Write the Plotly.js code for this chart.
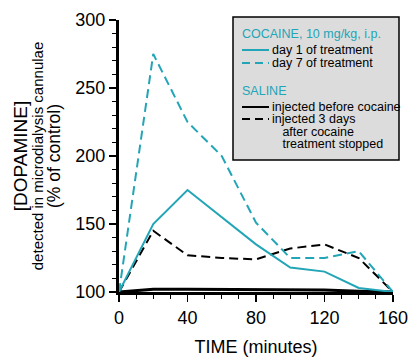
<!DOCTYPE html>
<html>
<head>
<meta charset="utf-8">
<script src="https://cdn.plot.ly/plotly-3.0.1.min.js"></script>
<style>
html,body{margin:0;padding:0;background:#fff;}
#chart{width:418px;height:363px;}
</style>
</head>
<body>
<div id="chart"></div>
<script>
var time = [0, 20, 40, 60, 80, 100, 120, 140, 160];
var cocaineDay1 = [100, 150, 175, 155, 135, 118, 115, 103, 100];
var cocaineDay7 = [100, 275, 225, 200, 151, 125, 125, 130, 100];
var salineBefore = [100, 102, 102, 102, 102, 102, 101.5, 100.5, 100];
var salineAfter = [100, 145, 127, 125, 124, 132, 135, 125, 100];

var cyan = '#22a5b6';
var font = 'Liberation Sans, Arial, Helvetica, sans-serif';

var traces = [
  {x: time, y: salineBefore, mode: 'lines', line: {color: '#000', width: 3}},
  {x: time, y: salineAfter, mode: 'lines', line: {color: '#000', width: 2, dash: '9px,5px'}},
  {x: time, y: cocaineDay7, mode: 'lines', line: {color: cyan, width: 2, dash: '9px,5px'}},
  {x: time, y: cocaineDay1, mode: 'lines', line: {color: cyan, width: 2}}
];

function sz(t, s) { return '<span style="font-size:' + s + 'px">' + t + '</span>'; }
function ann(x, y, text, color, base) {
  return {xref: 'paper', yref: 'paper', x: x, y: y, text: text, showarrow: false, align: 'left',
    xanchor: 'left', yanchor: 'middle', borderpad: 0, font: {family: font, size: base || 12.5, color: color || '#000'}};
}
// paper coords: plot area x 119..393 (274px), y 20..292 (272px)
function px(x) { return (x - 119) / 274; }
function py(y) { return (292 - y) / 272; }
var ind = '&nbsp;&nbsp;&nbsp;';

var layout = {
  width: 418, height: 363,
  margin: {l: 119, r: 25, t: 20, b: 71},
  paper_bgcolor: '#fff', plot_bgcolor: '#fff',
  showlegend: false,
  font: {family: font, color: '#000'},
  xaxis: {
    range: [0, 160], tickvals: [0, 40, 80, 120, 160], ticks: 'outside', ticklen: 7, tickwidth: 1.5,
    tickcolor: '#000', showgrid: false, zeroline: false, showline: true, linewidth: 3, linecolor: '#000',
    tickfont: {family: font, size: 18, color: '#000'},
    minor: {dtick: 10, ticks: 'outside', ticklen: 4, tickwidth: 1, tickcolor: '#000', showgrid: false},
    title: {text: 'TIME (minutes)', font: {family: font, size: 18, color: '#000'}, standoff: 14}
  },
  yaxis: {
    range: [100, 300], tickvals: [100, 150, 200, 250, 300], ticks: 'outside', ticklen: 7, tickwidth: 1.5,
    tickcolor: '#000', showgrid: false, zeroline: false, showline: true, linewidth: 3, linecolor: '#000',
    tickfont: {family: font, size: 18, color: '#000'},
    minor: {dtick: 10, ticks: 'outside', ticklen: 4, tickwidth: 1, tickcolor: '#000', showgrid: false},
    title: {
      text: sz('[DOPAMINE]', 19) + '<br>' + sz('detected in microdialysis cannulae', 15) + '<br>' + sz('(% of control)', 17.5),
      font: {family: font, size: 13, color: '#000'}, standoff: 12
    }
  },
  shapes: [
    {type: 'rect', xref: 'paper', yref: 'paper', x0: px(233), x1: px(399), y0: py(160), y1: py(17),
      fillcolor: '#dcdcdc', line: {color: '#000', width: 1.5}, layer: 'above'},
    {type: 'line', xref: 'paper', yref: 'paper', x0: px(242), x1: px(269), y0: py(50), y1: py(50),
      line: {color: cyan, width: 2}, layer: 'above'},
    {type: 'line', xref: 'paper', yref: 'paper', x0: px(242), x1: px(269), y0: py(63), y1: py(63),
      line: {color: cyan, width: 2, dash: '8px,5px'}, layer: 'above'},
    {type: 'line', xref: 'paper', yref: 'paper', x0: px(242), x1: px(269), y0: py(107), y1: py(107),
      line: {color: '#000', width: 2}, layer: 'above'},
    {type: 'line', xref: 'paper', yref: 'paper', x0: px(242), x1: px(269), y0: py(119), y1: py(119),
      line: {color: '#000', width: 2, dash: '8px,5px'}, layer: 'above'}
  ],
  annotations: [
    ann(px(241), py(34), 'COCAINE, 10 mg/kg, i.p.', cyan),
    ann(px(271), py(56.5), sz('day 1 of treatment', 12.5) + '<br>' + sz('day 7 of treatment', 12.5), '#000', 10),
    ann(px(241), py(91), 'SALINE', cyan),
    ann(px(271), py(126), sz('injected before cocaine', 12.5) + '<br>' + sz('injected 3 days', 12.5) + '<br>' +
      sz(ind + 'after cocaine', 12.5) + '<br>' + sz(ind + 'treatment stopped', 12.5), '#000', 9.6)
  ]
};

Plotly.newPlot('chart', traces, layout, {displayModeBar: false, staticPlot: true});
</script>
</body>
</html>
